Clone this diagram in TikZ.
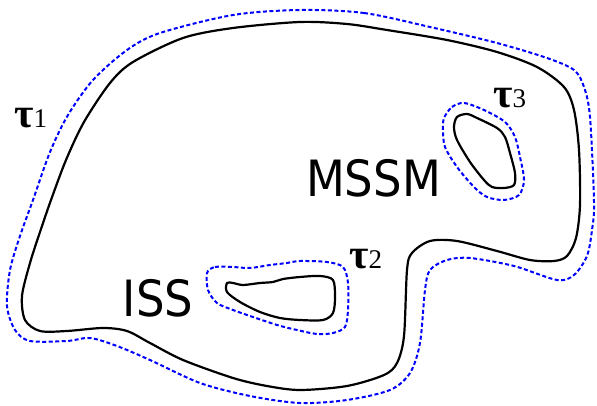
\documentclass[tikz,border=0pt]{standalone}
\usepackage{fontspec}
\usepackage{tikz}
\newfontfamily\regionfont{DejaVu Sans Condensed}
\newfontfamily\taufont{Liberation Serif}

\begin{document}
\begin{tikzpicture}[x=1pt,y=-1pt,
	boundary/.style={draw=black,line width=2.2pt,line join=round},
	halo/.style={draw=blue,line width=2pt,dash pattern=on 4pt off 2.5pt},
	region/.style={inner sep=0pt,anchor=base,font=\regionfont\fontsize{50}{60}\selectfont},
	taulabel/.style={inner sep=0pt,anchor=base west}]
		\useasboundingbox (0,0) rectangle (597,406);

		% outer domain
		\draw[boundary] plot[smooth cycle,tension=0.5] coordinates {
			(300,22) (347,24) (387,30) (447,40) (497,52) (537,67) (564,87) (574,110)
			(579,150) (580,205) (576,238) (567,256) (554,261) (530,260)
			(497,251) (457,241) (430,241) (412,253) (407,270) (404,336) (397,363)
			(384,375) (347,386) (300,390) (267,386) (233,378) (183,360) (150,343)
			(127,331) (103,328) (67,331) (40,331) (25,320) (22,296) (30,263)
			(40,232) (51,200) (66,160) (84,122) (110,83) (133,62) (183,38) (233,28)};
		\draw[halo] plot[smooth cycle,tension=0.5] coordinates {
			(300,10) (364,13) (430,27) (497,43) (547,58) (574,70) (584,87) (590,117)
			(594,202) (592,230) (587,256) (574,275) (557,280) (514,266) (470,258)
			(447,260) (430,270) (425,290) (420,343) (410,373) (390,390) (347,400)
			(300,403) (250,396) (200,383) (150,360) (117,346) (90,338) (67,341)
			(30,341) (15,330) (7,306) (10,270) (20,236) (33,200) (50,152) (68,115)
			(93,80) (127,50) (160,33) (233,15)};

		% MSSM island
		\draw[boundary] plot[smooth cycle,tension=0.5] coordinates {
			(454,127) (457,117) (467,114) (477,118) (497,128) (505,137) (510,153)
			(515,173) (514,185) (504,188) (492,187) (484,180) (470,162) (457,140)};
		\draw[halo] plot[smooth cycle,tension=0.5] coordinates {
			(444,118) (452,107) (464,103) (484,110) (505,122) (515,137) (520,157)
			(524,180) (519,195) (504,200) (487,197) (474,187) (457,167) (445,147)
			(443,130)};

		% ISS island
		\draw[boundary] plot[smooth cycle,tension=0.5] coordinates {
			(227,283) (233,283) (243,285) (260,283) (273,282) (283,279) (300,277)
			(320,276) (333,280) (335,297) (333,313) (323,320) (300,320) (280,318)
			(260,312) (240,302) (227,292)};
		\draw[halo] plot[smooth cycle,tension=0.5] coordinates {
			(207,273) (215,267) (233,267) (250,268) (270,265) (287,263) (300,261)
			(327,262) (343,267) (348,283) (348,310) (345,327) (333,333) (317,334)
			(297,330) (277,325) (253,317) (233,310) (217,303) (208,290)};

		% labels
		\node[region] (mssm) at (373.5,197) {MSSM};
		\node[region] (iss) at (158,316) {ISS};
		\node[taulabel] (tau1) at (14,128) {\taufont{\fontsize{42}{42}\selectfont\bfseries τ}{\fontsize{27}{27}\selectfont 1}};
		\node[taulabel] (tau2) at (349,268) {\taufont{\fontsize{42}{42}\selectfont\bfseries τ}{\fontsize{27}{27}\selectfont 2}};
		\node[taulabel] (tau3) at (493,108) {\taufont{\fontsize{42}{42}\selectfont\bfseries τ}{\fontsize{27}{27}\selectfont 3}};
\end{tikzpicture}
\end{document}
